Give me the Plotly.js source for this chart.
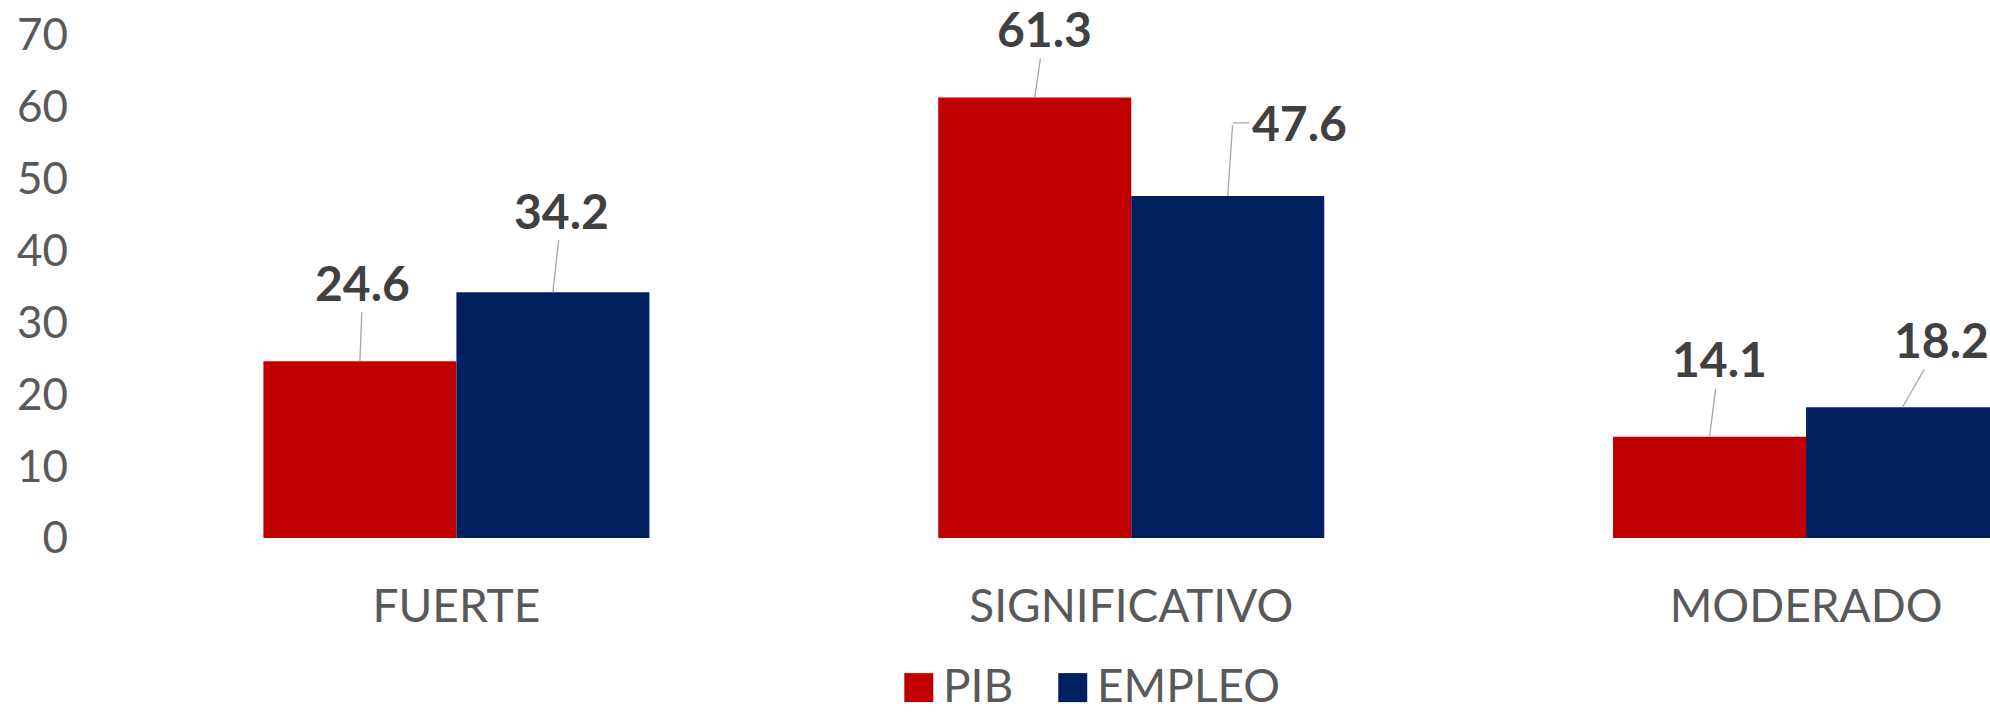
<!DOCTYPE html>
<html><head><meta charset="utf-8">
<script src="https://cdn.plot.ly/plotly-3.0.1.min.js"></script>
<style>html,body{margin:0;padding:0;background:#fff;} #chart{width:1990px;height:712px;}</style>
</head><body><div id="chart"></div>
<script>
const categories = ['FUERTE', 'SIGNIFICATIVO', 'MODERADO'];
const seriesNames = ['PIB', 'EMPLEO'];
const pibValues = [24.6, 61.3, 14.1];
const empleoValues = [34.2, 47.6, 18.2];
const yTickValues = [0, 10, 20, 30, 40, 50, 60, 70];

// ---- layout / style ----
const W = 1990, H = 712, L = 118.5, R = 0, T = 35.4, B = 174;
const plotW = W - L - R, plotH = H - T - B;
const catPx = 675;
const xMax = -0.5 + plotW / catPx;
const bargap = 0.428;
const off = (1 - bargap) / 4;
const colors = ['#C00000', '#002060'];
const fontFam = 'Lato, "Open Sans", sans-serif';
const leaderColor = '#A6A6A6';
// label placement (pixel offsets from bar top); elbow = leader with a horizontal end piece
const labelStyle = [
  [{ax: 3, ay: -79}, {ax: 10, ay: -69}, {ax: 10, ay: -78}],
  [{ax: 9, ay: -82}, {elbow: {up: 73, dx: 5, run: 17}}, {ax: 39, ay: -68}]
];

const seriesValues = [pibValues, empleoValues];
const traces = seriesValues.map((vals, s) => ({
  type: 'bar', name: seriesNames[s], x: categories, y: vals,
  marker: {color: colors[s]}, showlegend: false, hoverinfo: 'skip'
}));

const labelFont = {family: fontFam, size: 48, color: '#404040', weight: 700};
const annotations = [];
seriesValues.forEach((vals, s) => {
  vals.forEach((v, i) => {
    const st = labelStyle[s][i];
    const xi = i + (s === 0 ? -off : off);
    if (st.elbow) {
      const e = st.elbow;
      // rising part of the leader
      annotations.push({x: xi, y: v, xref: 'x', yref: 'y', text: ' ',
        showarrow: true, arrowhead: 0, arrowwidth: 1.3, arrowcolor: leaderColor,
        ax: e.dx, ay: -e.up, standoff: 0, font: {size: 1}});
      // horizontal end + the label itself
      annotations.push({x: xi, y: v, xref: 'x', yref: 'y', xshift: e.dx, yshift: e.up,
        text: v.toFixed(1), showarrow: true, arrowhead: 0, arrowwidth: 1.3,
        arrowcolor: leaderColor, ax: e.run, ay: 0, xanchor: 'left',
        standoff: 0, font: labelFont});
    } else {
      annotations.push({
        x: xi, y: v, xref: 'x', yref: 'y',
        text: v.toFixed(1), showarrow: true, arrowhead: 0, arrowwidth: 1.3,
        arrowcolor: leaderColor, ax: st.ax, ay: st.ay,
        standoff: 0, font: labelFont
      });
    }
  });
});

// manual legend (large squares like the original)
const px2x = px => (px - L) / plotW;
const py2y = py => (H - B - py) / plotH;
const legendItems = [{sq: 904, txt: 944}, {sq: 1058, txt: 1098}];
const legTop = 673, legSize = 29;
const shapes = [];
legendItems.forEach((it, s) => {
  shapes.push({type: 'rect', xref: 'paper', yref: 'paper',
    x0: px2x(it.sq), x1: px2x(it.sq + legSize), y0: py2y(legTop + legSize), y1: py2y(legTop),
    fillcolor: colors[s], line: {width: 0}});
  annotations.push({xref: 'paper', yref: 'paper', x: px2x(it.txt - 3), y: py2y(684),
    xanchor: 'left', yanchor: 'middle', showarrow: false, text: seriesNames[s],
    font: {family: fontFam, size: 46, color: '#595959'}});
});

const layout = {
  width: W, height: H,
  margin: {l: L, r: R, t: T, b: B, pad: 0},
  paper_bgcolor: '#ffffff', plot_bgcolor: '#ffffff',
  barmode: 'group', bargap: bargap, bargroupgap: 0,
  showlegend: false,
  xaxis: {type: 'category', range: [-0.5, xMax], showgrid: false, zeroline: false,
    showline: false, ticks: '', ticklabelstandoff: 37,
    tickfont: {family: fontFam, size: 46, color: '#595959'}},
  yaxis: {range: [0, 70], tickvals: yTickValues, showgrid: false, zeroline: false,
    showline: false, ticks: '', ticklabelstandoff: 50,
    tickfont: {family: fontFam, size: 44, color: '#595959'}},
  annotations: annotations, shapes: shapes
};

Plotly.newPlot('chart', traces, layout, {staticPlot: true, displayModeBar: false});
</script></body></html>
